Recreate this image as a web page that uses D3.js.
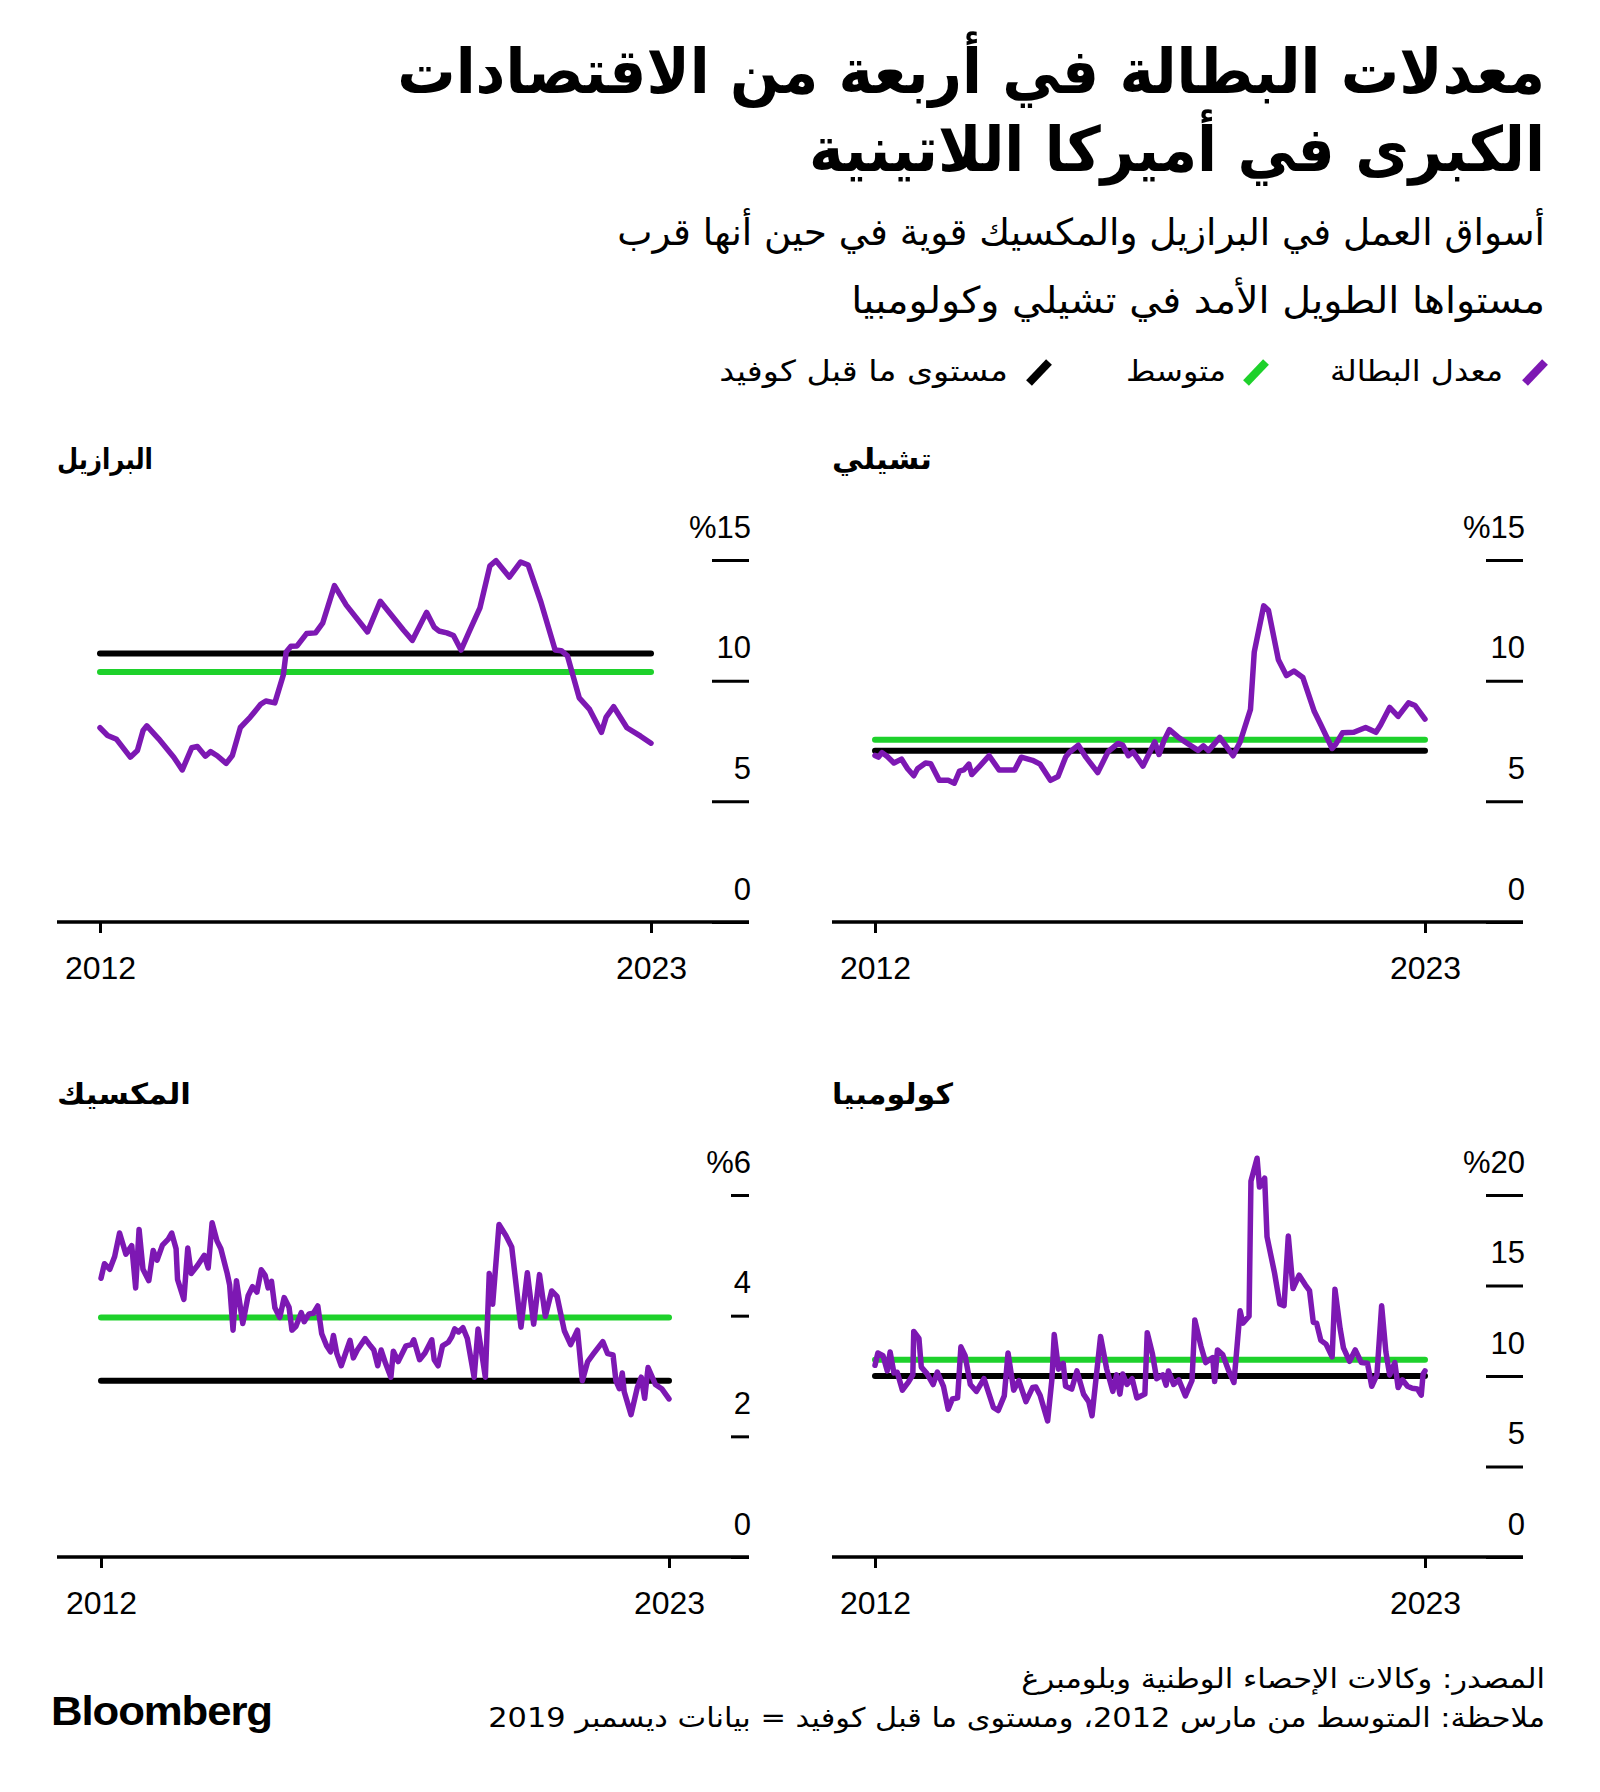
<!DOCTYPE html>
<html><head><meta charset="utf-8">
<script src="https://cdn.jsdelivr.net/npm/d3@7"></script>
<style>body{margin:0;background:#fff}svg{display:block}</style>
</head><body>
<svg id="chart" width="1600" height="1792"></svg>
<script>
// ---------------- DATA ----------------
const countryNames = ["البرازيل", "تشيلي", "المكسيك", "كولومبيا"];
const legendLabels = ["معدل البطالة", "متوسط", "مستوى ما قبل كوفيد"];
const titleLines = ["معدلات البطالة في أربعة من الاقتصادات", "الكبرى في أميركا اللاتينية"];
const subtitleLines = ["أسواق العمل في البرازيل والمكسيك قوية في حين أنها قرب", "مستواها الطويل الأمد في تشيلي وكولومبيا"];
const footerLines = ["المصدر: وكالات الإحصاء الوطنية وبلومبرغ", "ملاحظة: المتوسط من مارس 2012، ومستوى ما قبل كوفيد = بيانات ديسمبر 2019"];
const xTickLabels = ["2012", "2023"];
const dateDomain = [2012.17, 2023.83]; // decimal years (Mar 2012 – Nov 2023)

const averageLevels = [10.36, 7.55, 3.97, 10.9];
const preCovidLevels = [11.13, 7.1, 2.92, 10.0];

const brazilTicks = [0, 5, 10, 15];
const brazilTickLabels = ["0", "5", "10", "%15"];
const chileTicks = [0, 5, 10, 15];
const chileTickLabels = ["0", "5", "10", "%15"];
const mexicoTicks = [0, 2, 4, 6];
const mexicoTickLabels = ["0", "2", "4", "%6"];
const colombiaTicks = [0, 5, 10, 15, 20];
const colombiaTickLabels = ["0", "5", "10", "15", "%20"];

const brazilDates = [2012.17,2012.33,2012.52,2012.81,2012.96,2013.08,2013.16,2013.41,2013.73,2013.91,
 2014.11,2014.23,2014.40,2014.51,2014.65,2014.84,2014.97,2015.14,2015.35,2015.57,
 2015.68,2015.87,2016.05,2016.11,2016.21,2016.34,2016.54,2016.73,2016.88,2017.13,
 2017.38,2017.83,2018.10,2018.59,2018.78,2019.08,2019.24,2019.34,2019.51,2019.65,
 2019.81,2019.99,2020.21,2020.42,2020.55,2020.83,2021.07,2021.23,2021.50,2021.80,
 2021.93,2022.06,2022.31,2022.53,2022.78,2022.88,2023.04,2023.32,2023.61,2023.83];
const brazilValues = [8.05,7.73,7.57,6.83,7.11,7.94,8.13,7.59,6.83,6.30,
 7.22,7.27,6.87,7.06,6.89,6.57,6.90,8.06,8.49,9.02,
 9.16,9.08,10.24,11.19,11.43,11.44,11.95,11.98,12.38,13.94,
 13.13,12.02,13.29,12.10,11.67,12.83,12.22,12.06,11.98,11.87,
 11.27,12.06,13.02,14.76,14.97,14.29,14.92,14.79,13.25,11.27,
 11.24,11.03,9.29,8.81,7.86,8.49,8.92,8.05,7.70,7.41];

const chileDates = [2012.17,2012.24,2012.32,2012.43,2012.57,2012.73,2012.86,2012.99,2013.07,2013.24,
 2013.35,2013.53,2013.72,2013.85,2013.96,2014.05,2014.16,2014.22,2014.39,2014.59,
 2014.80,2015.13,2015.27,2015.51,2015.67,2015.89,2016.05,2016.21,2016.29,2016.48,
 2016.64,2016.89,2017.11,2017.32,2017.42,2017.54,2017.64,2017.85,2018.10,2018.19,
 2018.29,2018.41,2018.59,2018.77,2019.02,2019.13,2019.24,2019.48,2019.76,2019.91,
 2020.13,2020.21,2020.41,2020.51,2020.72,2020.89,2021.05,2021.24,2021.48,2021.62,
 2021.86,2021.94,2022.08,2022.32,2022.57,2022.79,2022.89,2023.08,2023.26,2023.48,
 2023.62,2023.83];
const chileValues = [6.90,6.83,7.02,6.86,6.59,6.75,6.35,6.06,6.35,6.59,
 6.56,5.87,5.87,5.75,6.25,6.30,6.54,6.11,6.46,6.89,
 6.30,6.30,6.83,6.70,6.54,5.87,6.03,6.83,7.03,7.33,
 6.83,6.19,7.06,7.40,7.33,6.89,7.05,6.46,7.46,6.94,
 7.49,7.97,7.67,7.43,7.11,7.30,7.10,7.65,6.89,7.46,
 8.81,11.19,13.10,12.92,10.87,10.21,10.40,10.13,8.73,8.17,
 7.19,7.38,7.84,7.86,8.06,7.86,8.17,8.89,8.52,9.08,
 8.97,8.41];

const mexicoDates = [2012.17,2012.24,2012.35,2012.45,2012.55,2012.68,2012.80,2012.88,2012.95,2013.03,
 2013.15,2013.24,2013.32,2013.43,2013.55,2013.62,2013.71,2013.74,2013.87,2013.95,
 2014.02,2014.15,2014.29,2014.37,2014.45,2014.55,2014.63,2014.76,2014.81,2014.88,
 2014.95,2015.08,2015.19,2015.28,2015.37,2015.46,2015.54,2015.60,2015.67,2015.74,
 2015.84,2015.93,2016.03,2016.09,2016.17,2016.28,2016.34,2016.44,2016.53,2016.62,
 2016.70,2016.80,2016.88,2016.94,2017.01,2017.10,2017.28,2017.35,2017.43,2017.59,
 2017.70,2017.77,2017.85,2017.92,2018.01,2018.12,2018.17,2018.27,2018.43,2018.54,
 2018.59,2018.71,2018.82,2018.96,2019.01,2019.09,2019.18,2019.30,2019.37,2019.43,
 2019.51,2019.60,2019.69,2019.83,2019.91,2020.06,2020.14,2020.21,2020.34,2020.48,
 2020.60,2020.79,2020.92,2021.05,2021.17,2021.29,2021.42,2021.53,2021.68,2021.81,
 2021.95,2022.05,2022.16,2022.28,2022.47,2022.57,2022.68,2022.74,2022.81,2022.87,
 2022.91,2023.05,2023.18,2023.26,2023.33,2023.40,2023.55,2023.68,2023.83];
const mexicoValues = [4.62,4.86,4.77,4.98,5.37,5.02,5.16,4.46,5.43,4.77,
 4.58,5.08,4.92,5.17,5.27,5.37,5.11,4.60,4.27,5.12,
 4.70,4.83,5.00,4.79,5.54,5.24,5.11,4.70,4.51,3.76,
 4.58,3.87,4.33,4.48,4.39,4.76,4.67,4.46,4.57,4.13,
 3.97,4.30,4.14,3.76,3.82,4.05,3.90,4.03,4.04,4.16,
 3.70,3.50,3.40,3.67,3.37,3.17,3.59,3.30,3.43,3.62,
 3.50,3.43,3.17,3.43,3.21,2.98,3.41,3.24,3.50,3.52,
 3.60,3.27,3.38,3.60,3.27,3.17,3.50,3.56,3.65,3.78,
 3.73,3.80,3.62,2.98,3.78,2.98,4.70,4.19,5.51,5.33,
 5.14,3.81,4.71,3.86,4.68,3.99,4.41,4.32,3.75,3.52,
 3.76,2.92,3.24,3.37,3.57,3.37,3.35,2.92,2.79,3.05,
 2.74,2.36,2.81,2.98,2.63,3.14,2.86,2.79,2.62];

const colombiaDates = [2012.17,2012.23,2012.34,2012.43,2012.49,2012.57,2012.64,2012.75,2012.88,2012.97,
 2012.99,2013.10,2013.15,2013.27,2013.40,2013.49,2013.62,2013.72,2013.81,2013.92,
 2013.99,2014.08,2014.19,2014.32,2014.48,2014.68,2014.78,2014.91,2014.99,2015.11,
 2015.22,2015.37,2015.51,2015.58,2015.67,2015.83,2015.92,2015.97,2016.06,2016.16,
 2016.21,2016.34,2016.45,2016.59,2016.70,2016.77,2016.95,2017.08,2017.21,2017.29,
 2017.36,2017.42,2017.51,2017.62,2017.72,2017.89,2017.94,2018.05,2018.14,2018.27,
 2018.34,2018.39,2018.50,2018.61,2018.75,2018.89,2018.95,2019.08,2019.18,2019.33,
 2019.37,2019.43,2019.54,2019.67,2019.78,2019.91,2019.97,2020.10,2020.14,2020.27,
 2020.32,2020.43,2020.48,2020.64,2020.75,2020.84,2020.93,2021.03,2021.16,2021.29,
 2021.38,2021.46,2021.53,2021.62,2021.73,2021.86,2021.92,2022.03,2022.10,2022.23,
 2022.35,2022.48,2022.61,2022.70,2022.81,2022.91,2023.00,2023.08,2023.19,2023.26,
 2023.35,2023.46,2023.56,2023.67,2023.75,2023.79,2023.83];
const colombiaValues = [10.59,11.27,11.12,10.28,11.33,10.17,10.21,9.22,9.68,10.06,
 12.46,12.08,10.49,10.13,9.53,10.21,9.43,8.16,8.73,8.79,
 11.61,11.12,9.53,9.15,9.85,8.26,8.09,8.90,11.27,9.22,
 9.75,8.58,9.36,9.39,8.94,7.52,9.79,12.29,10.38,10.70,
 9.43,9.28,10.28,9.00,8.58,7.80,12.18,10.38,9.15,10.06,
 9.00,10.11,9.53,9.85,8.79,9.00,12.39,11.23,9.85,10.06,
 9.49,10.28,9.53,9.79,8.90,9.75,13.09,11.65,10.74,11.02,
 9.70,11.44,11.19,10.28,9.64,13.60,12.92,13.31,20.76,22.03,
 20.44,20.93,17.69,15.68,13.98,13.88,17.73,14.83,15.57,15.04,
 14.72,12.97,12.92,11.97,11.76,11.06,14.79,12.61,11.55,10.81,
 11.44,10.74,10.70,9.43,10.06,13.88,11.33,10.06,10.74,9.36,
 9.79,9.43,9.32,9.28,8.94,10.11,10.28];

// ---------------- STYLE / LAYOUT ----------------
const PURPLE = "#7d18b3", GREEN = "#1ed12b", BLACK = "#000";
const AR = "'DejaVu Sans', sans-serif";
const NUM = "'Liberation Sans', Arial, sans-serif";

const seriesDates = [brazilDates, chileDates, mexicoDates, colombiaDates];
const seriesValues = [brazilValues, chileValues, mexicoValues, colombiaValues];
const seriesTicks = [brazilTicks, chileTicks, mexicoTicks, colombiaTicks];
const seriesTickLabels = [brazilTickLabels, chileTickLabels, mexicoTickLabels, colombiaTickLabels];

const layout = [
  {left: 57, right: 749, x0: 100, x1: 651, axisY: 922, topY: 560, tickLen: 37, titleW: 96},
  {left: 832, right: 1523, x0: 875, x1: 1425, axisY: 922, topY: 560, tickLen: 37, titleW: 100},
  {left: 57, right: 749, x0: 101, x1: 669, axisY: 1557, topY: 1195, tickLen: 18, titleW: 134},
  {left: 832, right: 1523, x0: 875, x1: 1425, axisY: 1557, topY: 1195, tickLen: 37, titleW: 121}
];

function decToDate(d) {
  const y = Math.floor(d);
  const a = new Date(y, 0, 1), b = new Date(y + 1, 0, 1);
  return new Date(a.getTime() + (d - y) * (b - a));
}

const svg = d3.select("#chart");
svg.append("rect").attr("width", 1600).attr("height", 1792).attr("fill", "#fff");

// RTL text helper: drawn at natural size, then scaled horizontally to the target width.
// align "right" -> right edge at x, "left" -> left edge at x
function arText(g, txt, x, y, size, weight, width, align) {
  const wrap = g.append("g");
  const t = wrap.append("text")
    .attr("x", 0).attr("y", 0)
    .attr("direction", "rtl")
    .style("direction", "rtl")
    .style("unicode-bidi", "embed")
    .attr("text-anchor", align === "right" ? "start" : "end")
    .attr("font-family", AR)
    .attr("font-size", size)
    .attr("font-weight", weight)
    .attr("fill", "#000")
    .text(txt);
  let s = 1;
  if (width) {
    const natural = t.node().getComputedTextLength();
    if (natural > 0) s = width / natural;
  }
  wrap.attr("transform", `translate(${x},${y}) scale(${s},1)`);
  return t;
}

// Title
arText(svg, titleLines[0], 1545, 93, 62, "bold", 1148, "right");
arText(svg, titleLines[1], 1545, 171, 62, "bold", 736, "right");
// Subtitle
arText(svg, subtitleLines[0], 1545, 245, 37, "normal", 928, "right");
arText(svg, subtitleLines[1], 1545, 313, 37, "normal", 694, "right");

// Legend
const legendColors = [PURPLE, GREEN, BLACK];
const legendSlashX = [1535, 1256, 1039];
const legendTextRight = [1503, 1226, 1008];
const legendTextW = [173, 100, 289];
legendLabels.forEach((lab, i) => {
  svg.append("line")
    .attr("x1", legendSlashX[i] - 10).attr("y1", 383)
    .attr("x2", legendSlashX[i] + 10).attr("y2", 362)
    .attr("stroke", legendColors[i]).attr("stroke-width", 8);
  arText(svg, lab, legendTextRight[i], 381, 29, "normal", legendTextW[i], "right");
});

// Panels
layout.forEach((L, i) => {
  const g = svg.append("g");
  const dates = seriesDates[i], vals = seriesValues[i], ticks = seriesTicks[i], tickLabs = seriesTickLabels[i];
  const data = dates.map((d, k) => ({date: decToDate(d), value: vals[k]}));

  const x = d3.scaleTime().domain(dateDomain.map(decToDate)).range([L.x0, L.x1]);
  const y = d3.scaleLinear().domain([0, d3.max(ticks)]).range([L.axisY, L.topY]);

  // panel title
  arText(g, countryNames[i], L.left, L.axisY - 453, 29, "bold", L.titleW, "left");

  // y axis (ticks to the left of the right edge, labels above the ticks)
  const yAxis = d3.axisLeft(y).tickValues(ticks).tickSize(L.tickLen)
    .tickFormat((d, k) => tickLabs[k]);
  const ya = g.append("g").attr("transform", `translate(${L.right},0)`).call(yAxis);
  ya.select(".domain").remove();
  ya.selectAll(".tick line").attr("stroke", BLACK).attr("stroke-width", 3);
  ya.selectAll(".tick text")
    .attr("x", 2).attr("y", -23).attr("dy", null)
    .attr("text-anchor", "end")
    .attr("font-family", NUM).attr("font-size", 31).attr("fill", "#000");

  // x axis
  const xAxis = d3.axisBottom(x).tickValues(x.domain()).tickSize(11)
    .tickFormat((d, k) => xTickLabels[k]);
  const xa = g.append("g").attr("transform", `translate(0,${L.axisY})`).call(xAxis);
  xa.select(".domain").remove();
  xa.selectAll(".tick line").attr("stroke", BLACK).attr("stroke-width", 3);
  xa.selectAll(".tick text")
    .attr("y", 57).attr("dy", null)
    .attr("font-family", NUM).attr("font-size", 32).attr("fill", "#000");

  // baseline
  g.append("line").attr("x1", L.left).attr("x2", L.right)
    .attr("y1", y(0)).attr("y2", y(0))
    .attr("stroke", BLACK).attr("stroke-width", 3.5);

  // reference lines
  const refLine = (v, color) => g.append("line")
    .attr("x1", x.range()[0]).attr("x2", x.range()[1])
    .attr("y1", y(v)).attr("y2", y(v))
    .attr("stroke", color).attr("stroke-width", 6).attr("stroke-linecap", "round");
  refLine(preCovidLevels[i], BLACK);
  refLine(averageLevels[i], GREEN);

  // series
  const line = d3.line().x(d => x(d.date)).y(d => y(d.value));
  g.append("path").datum(data).attr("d", line)
    .attr("fill", "none").attr("stroke", PURPLE).attr("stroke-width", 5.5)
    .attr("stroke-linejoin", "round").attr("stroke-linecap", "round");
});

// Footer
arText(svg, footerLines[0], 1545, 1688, 27, "normal", 524, "right");
arText(svg, footerLines[1], 1545, 1727, 27, "normal", 1057, "right");
svg.append("text").attr("x", 51).attr("y", 1725)
  .attr("font-family", NUM).attr("font-weight", "bold").attr("font-size", 40)
  .attr("textLength", 221).attr("lengthAdjust", "spacingAndGlyphs")
  .attr("letter-spacing", -1)
  .text("Bloomberg");
</script>
</body></html>
